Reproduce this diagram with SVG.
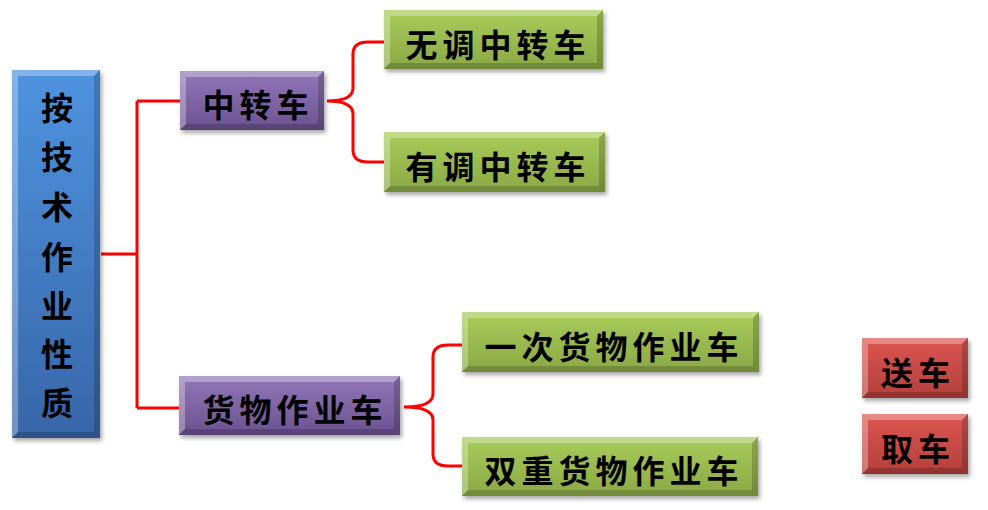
<svg xmlns="http://www.w3.org/2000/svg" width="988" height="510" viewBox="0 0 988 510">
<defs>
<linearGradient id="gBlue" x1="0" y1="0" x2="0" y2="1"><stop offset="0" stop-color="#4f93e0"/><stop offset="1" stop-color="#3766a8"/></linearGradient>
<linearGradient id="gPurple" x1="0" y1="0" x2="0" y2="1"><stop offset="0" stop-color="#9277b8"/><stop offset="1" stop-color="#6b5290"/></linearGradient>
<linearGradient id="gGreen" x1="0" y1="0" x2="0" y2="1"><stop offset="0" stop-color="#a9cc5a"/><stop offset="1" stop-color="#8aa845"/></linearGradient>
<linearGradient id="gRed" x1="0" y1="0" x2="0" y2="1"><stop offset="0" stop-color="#dc5652"/><stop offset="1" stop-color="#b43f3c"/></linearGradient>
<filter id="sh" x="-10%" y="-10%" width="130%" height="140%"><feDropShadow dx="2" dy="3" stdDeviation="2" flood-color="#000" flood-opacity="0.35"/></filter>
</defs>
<style>
.box{filter:url(#sh)}
.hl{fill:#fff;opacity:0.3}
.dk{fill:#000;opacity:0.18}
.t{font-family:"Noto Sans CJK SC","Noto Sans CJK JP",sans-serif;font-weight:700;font-size:32px;fill:#000;text-anchor:middle;letter-spacing:5px}
.tv{font-family:"Noto Sans CJK SC","Noto Sans CJK JP",sans-serif;font-weight:700;font-size:32px;fill:#000;text-anchor:middle}
.c{fill:none;stroke:#ff0000;stroke-width:3;stroke-linejoin:round}
</style>

<g id="connectors">
<path class="c" d="M101,254 H137 M137,101 V408 M137,101 H180 M137,408 H179"/>
<path class="c" d="M327,101 Q353,101 353,88 V54 Q353,42 368,42 H384 M327,101 Q353,101 353,114 V150 Q353,162 368,162 H384"/>
<path class="c" d="M404,407 Q433,407 433,394 V357 Q433,345 448,345 H462 M404,407 Q433,407 433,420 V454 Q433,466 448,466 H462"/>
</g>

<g id="root">
<g class="box"><rect x="12" y="70" width="88" height="368" fill="url(#gBlue)"/></g>
<polygon class="hl" points="12,70 100,70 94,76 18,76"/>
<polygon class="hl" points="12,70 18,76 18,432 12,438"/>
<polygon class="dk" points="12,438 100,438 94,432 18,432"/>
<polygon class="dk" points="100,70 100,438 94,432 94,76"/>
<text class="tv" x="57" y="120">按</text>
<text class="tv" x="57" y="169">技</text>
<text class="tv" x="57" y="219">术</text>
<text class="tv" x="57" y="269">作</text>
<text class="tv" x="57" y="318">业</text>
<text class="tv" x="57" y="366">性</text>
<text class="tv" x="57" y="415">质</text>
</g>

<g id="n-zhongzhuan">
<g class="box"><rect x="180" y="71" width="144" height="59" fill="url(#gPurple)"/></g>
<polygon class="hl" points="180,71 324,71 318,77 186,77"/>
<polygon class="hl" points="180,71 186,77 186,124 180,130"/>
<polygon class="dk" points="180,130 324,130 318,124 186,124"/>
<polygon class="dk" points="324,71 324,130 318,124 318,77"/>
<text class="t" x="258" y="117">中转车</text>
</g>

<g id="n-huowu">
<g class="box"><rect x="179" y="376" width="221" height="59" fill="url(#gPurple)"/></g>
<polygon class="hl" points="179,376 400,376 394,382 185,382"/>
<polygon class="hl" points="179,376 185,382 185,429 179,435"/>
<polygon class="dk" points="179,435 400,435 394,429 185,429"/>
<polygon class="dk" points="400,376 400,435 394,429 394,382"/>
<text class="t" x="295" y="422">货物作业车</text>
</g>

<g id="n-wutiao">
<g class="box"><rect x="384" y="10" width="219" height="59" fill="url(#gGreen)"/></g>
<polygon class="hl" points="384,10 603,10 597,16 390,16"/>
<polygon class="hl" points="384,10 390,16 390,63 384,69"/>
<polygon class="dk" points="384,69 603,69 597,63 390,63"/>
<polygon class="dk" points="603,10 603,69 597,63 597,16"/>
<text class="t" x="498" y="57">无调中转车</text>
</g>

<g id="n-youtiao">
<g class="box"><rect x="384" y="132" width="221" height="60" fill="url(#gGreen)"/></g>
<polygon class="hl" points="384,132 605,132 599,138 390,138"/>
<polygon class="hl" points="384,132 390,138 390,186 384,192"/>
<polygon class="dk" points="384,192 605,192 599,186 390,186"/>
<polygon class="dk" points="605,132 605,192 599,186 599,138"/>
<text class="t" x="498" y="179">有调中转车</text>
</g>

<g id="n-yici">
<g class="box"><rect x="462" y="312" width="297" height="60" fill="url(#gGreen)"/></g>
<polygon class="hl" points="462,312 759,312 753,318 468,318"/>
<polygon class="hl" points="462,312 468,318 468,366 462,372"/>
<polygon class="dk" points="462,372 759,372 753,366 468,366"/>
<polygon class="dk" points="759,312 759,372 753,366 753,318"/>
<text class="t" x="614" y="359">一次货物作业车</text>
</g>

<g id="n-shuangchong">
<g class="box"><rect x="462" y="437" width="296" height="59" fill="url(#gGreen)"/></g>
<polygon class="hl" points="462,437 758,437 752,443 468,443"/>
<polygon class="hl" points="462,437 468,443 468,490 462,496"/>
<polygon class="dk" points="462,496 758,496 752,490 468,490"/>
<polygon class="dk" points="758,437 758,496 752,490 752,443"/>
<text class="t" x="614" y="483">双重货物作业车</text>
</g>

<g id="n-songche">
<g class="box"><rect x="862" y="338" width="106" height="60" fill="url(#gRed)"/></g>
<polygon class="hl" points="862,338 968,338 962,344 868,344"/>
<polygon class="hl" points="862,338 868,344 868,392 862,398"/>
<polygon class="dk" points="862,398 968,398 962,392 868,392"/>
<polygon class="dk" points="968,338 968,398 962,392 962,344"/>
<text class="t" x="918" y="385">送车</text>
</g>

<g id="n-quche">
<g class="box"><rect x="862" y="414" width="106" height="60" fill="url(#gRed)"/></g>
<polygon class="hl" points="862,414 968,414 962,420 868,420"/>
<polygon class="hl" points="862,414 868,420 868,468 862,474"/>
<polygon class="dk" points="862,474 968,474 962,468 868,468"/>
<polygon class="dk" points="968,414 968,474 962,468 962,420"/>
<text class="t" x="918" y="461">取车</text>
</g>
</svg>
